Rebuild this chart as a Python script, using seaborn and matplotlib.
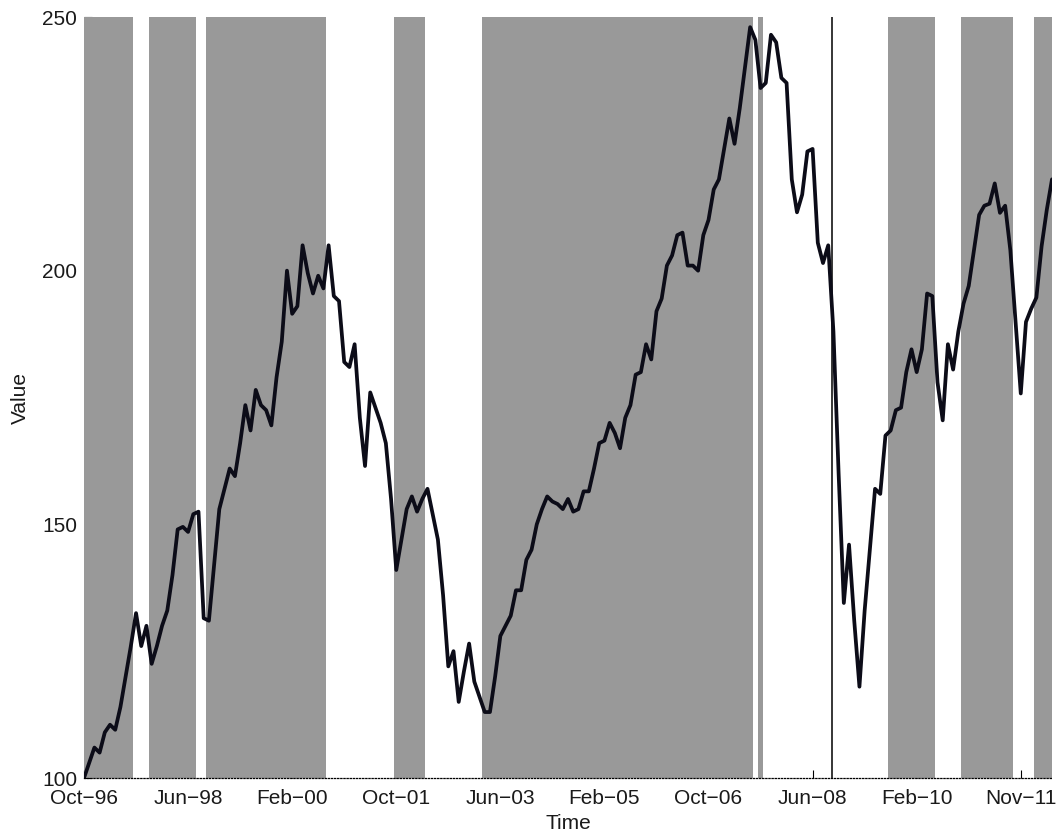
import numpy as np
import pandas as pd
import matplotlib
matplotlib.use("Agg")
import matplotlib.pyplot as plt
import seaborn as sns

# Monthly index level, starting Oct-96 (month 0)
values = [
    100.0, 103.0, 106.0, 105.0, 109.0, 110.5, 109.5, 114.0, 120.0, 126.0,   # 0-9
    132.5, 126.0, 130.0, 122.5, 126.0, 130.0, 133.0, 140.0, 149.0, 149.5,   # 10-19
    148.5, 152.0, 152.5, 131.5, 131.0, 142.0, 153.0, 157.0, 161.0, 159.5,   # 20-29
    166.0, 173.5, 168.5, 176.5, 173.5, 172.5, 169.5, 179.0, 186.0, 200.0,   # 30-39
    191.5, 193.0, 205.0, 199.5, 195.5, 199.0, 196.5, 205.0, 195.0, 194.0,   # 40-49
    182.0, 181.0, 185.5, 171.0, 161.5, 176.0, 173.0, 170.0, 166.0, 155.0,   # 50-59
    141.0, 147.0, 153.0, 155.5, 152.5, 155.0, 157.0, 152.0, 147.0, 136.0,   # 60-69
    122.0, 125.0, 115.0, 121.0, 126.5, 119.0, 116.0, 113.0, 113.0, 120.0,   # 70-79
    128.0, 130.0, 132.0, 137.0, 137.0, 143.0, 145.0, 150.0, 153.0, 155.5,   # 80-89
    154.5, 154.0, 153.0, 155.0, 152.5, 153.0, 156.5, 156.5, 161.0, 166.0,   # 90-99
    166.5, 170.0, 168.0, 165.0, 171.0, 173.5, 179.5, 180.0, 185.5, 182.5,   # 100-109
    192.0, 194.5, 201.0, 203.0, 207.0, 207.5, 201.0, 201.0, 200.0, 207.0,   # 110-119
    210.0, 216.0, 218.0, 224.0, 230.0, 225.0, 232.0, 240.0, 248.0, 245.5,   # 120-129
    236.0, 237.0, 246.5, 245.0, 238.0, 237.0, 218.0, 211.5, 215.0, 223.5,   # 130-139
    224.0, 205.5, 201.5, 205.0, 188.0, 160.0, 134.5, 146.0, 131.0, 118.0,   # 140-149
    133.0, 145.0, 157.0, 156.0, 167.5, 168.5, 172.5, 173.0, 180.0, 184.5,   # 150-159
    180.0, 184.5, 195.5, 195.0, 178.0, 170.5, 185.5, 180.5, 188.0, 193.5,   # 160-169
    197.0, 204.0, 211.0, 212.8, 213.2, 217.2, 211.4, 212.8, 204.0, 190.0,   # 170-179
    175.8, 189.9, 192.5, 194.7, 204.8, 212.0, 218.0,                        # 180-186
]

tick_months = [0, 20, 40, 60, 80, 100, 120, 140, 160, 180]
tick_labels = ["Oct\u221296", "Jun\u221298", "Feb\u221200", "Oct\u221201", "Jun\u221203",
               "Feb\u221205", "Oct\u221206", "Jun\u221208", "Feb\u221210", "Nov\u221211"]

# Shaded regimes as (first month, last month), inclusive
shaded_periods = [(0, 9), (13, 21), (24, 46), (60, 65), (77, 128),
                  (130, 130), (155, 163), (169, 178), (183, 186)]

event_month = 143.8
y_ticks = [100, 150, 200, 250]

df = pd.DataFrame({"month": np.arange(len(values)), "value": values})

sns.set_theme(style="white")
plt.rcParams["font.family"] = ["Liberation Sans", "DejaVu Sans"]
plt.rcParams["axes.unicode_minus"] = True

fig = plt.figure(figsize=(10.6, 8.36), dpi=100)
ax = fig.add_axes([84 / 1060, 58 / 836, 968 / 1060, 761 / 836])

for first, last in shaded_periods:
    ax.axvspan(first - 0.5, last + 0.5, color="#999999", lw=0, zorder=1)

ax.axvline(event_month, color="black", lw=1.1, zorder=2)

sns.lineplot(data=df, x="month", y="value", color="#0c0c18", lw=2.7,
             ax=ax, zorder=3)

ax.set_xlim(0, len(values) - 1)
ax.set_ylim(100, 250)
ax.set_xticks(tick_months)
ax.set_xticklabels(tick_labels)
ax.set_yticks(y_ticks)
ax.set_axisbelow(True)

for side in ("left", "top", "right"):
    ax.spines[side].set_visible(False)
ax.spines["bottom"].set_linestyle((0, (1, 1.5)))
ax.spines["bottom"].set_linewidth(0.9)
ax.spines["bottom"].set_color("black")
ax.spines["bottom"].set_zorder(4)

ax.tick_params(axis="x", direction="in", length=5.5, width=0.8, color="black",
               pad=8, labelsize=15, labelcolor="#1a1a1a", bottom=True)
ax.tick_params(axis="y", direction="in", length=5.5, width=0.8, color="black",
               pad=5, labelsize=15, labelcolor="#1a1a1a", left=True)

ax.set_xlabel("Time", fontsize=15, color="#1a1a1a", labelpad=4)
ax.set_ylabel("Value", fontsize=15, color="#1a1a1a", labelpad=9)

fig.savefig("out.png", dpi=100, facecolor="white")
